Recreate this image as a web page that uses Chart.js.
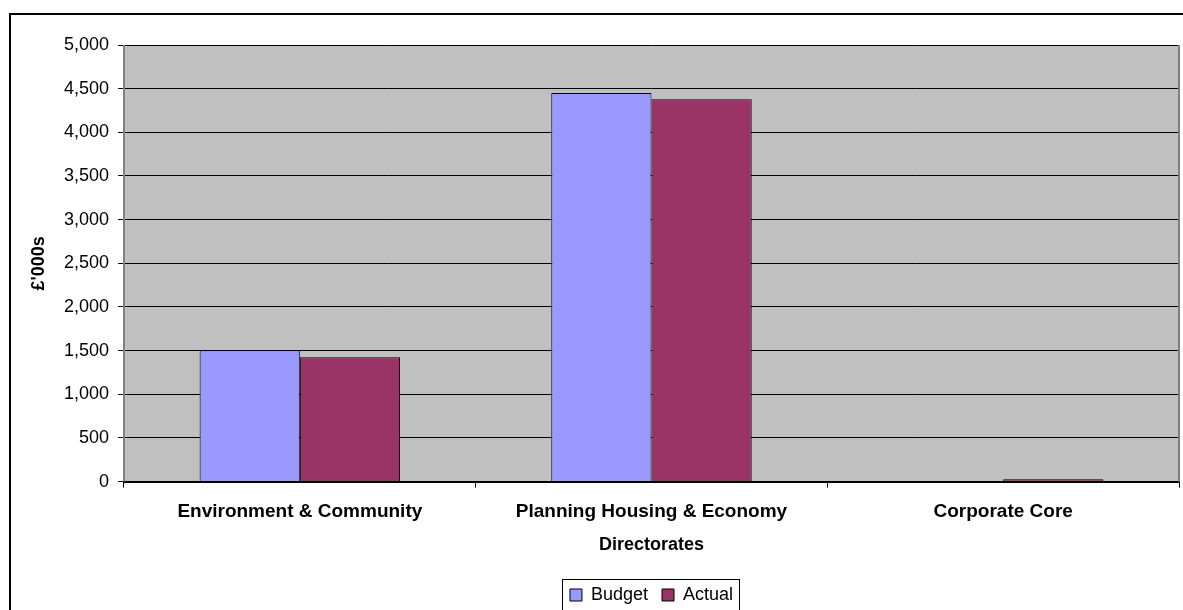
<!DOCTYPE html>
<html>
<head>
<meta charset="utf-8">
<script src="https://cdn.jsdelivr.net/npm/chart.js@4"></script>
<style>
  html, body { margin: 0; padding: 0; background: #fff; }
  #wrap { position: absolute; left: 0; top: 0; width: 1183px; height: 610px; }
</style>
</head>
<body>
<div id="wrap"><canvas id="barChart" width="1183" height="610"></canvas></div>
<script>
// directorates
var categories = ['Environment & Community', 'Planning Housing & Economy', 'Corporate Core'];
// £'000s
var budget = [1505, 4450, 8];
var actual = [1425, 4380, 28];
var yTicks = [0, 500, 1000, 1500, 2000, 2500, 3000, 3500, 4000, 4500, 5000];

var fontFamily = '"Liberation Sans", Arial, sans-serif';

// grey plot area + frame round the page
var excelLook = {
    id: 'excelLook',
    beforeDraw: function (chart) {
        var ctx = chart.ctx;
        var a = chart.chartArea;
        ctx.save();
        ctx.fillStyle = '#fff';
        ctx.fillRect(0, 0, chart.width, chart.height);
        ctx.fillStyle = '#c0c0c0';
        ctx.fillRect(a.left, a.top, a.right - a.left, a.bottom - a.top);
        ctx.restore();
    },
    afterDraw: function (chart) {
        var ctx = chart.ctx;
        var a = chart.chartArea;
        ctx.save();
        ctx.strokeStyle = '#808080';
        ctx.lineWidth = 2;
        ctx.beginPath();
        ctx.moveTo(a.left, a.bottom);
        ctx.lineTo(a.left, a.top);
        ctx.moveTo(a.right, a.top);
        ctx.lineTo(a.right, a.bottom);
        ctx.stroke();

        // outer chart frame
        ctx.strokeStyle = '#000';
        ctx.lineWidth = 2;
        ctx.strokeRect(10, 14, 1200, 700);

        // legend box
        var boxes = chart.legend.legendHitBoxes;
        if (boxes && boxes.length) {
            var first = boxes[0];
            var last = boxes[boxes.length - 1];
            var x1 = first.left - 8;
            var x2 = last.left + last.width + 6;
            var y1 = first.top - 7;
            ctx.strokeStyle = '#000';
            ctx.lineWidth = 1;
            ctx.strokeRect(Math.round(x1) + 0.5, Math.round(y1) + 0.5, Math.round(x2 - x1), 60);
        }
        ctx.restore();
    }
};

const bar = document.getElementById('barChart');

new Chart(bar, {
    type: 'bar',
    data: {
        labels: categories,
        datasets: [{
            label: 'Budget',
            data: budget,
            backgroundColor: '#9999ff',
            borderColor: '#000',
            borderWidth: 1
        }, {
            label: 'Actual',
            data: actual,
            backgroundColor: '#993366',
            borderColor: '#000',
            borderWidth: 1
        }]
    },
    options: {
        responsive: false,
        animation: false,
        devicePixelRatio: 1,
        datasets: {
            bar: {
                categoryPercentage: 0.57,
                barPercentage: 1
            }
        },
        layout: {
            padding: { left: 9, top: 45, right: 4, bottom: -4 }
        },
        scales: {
            x: {
                grid: {
                    offset: true,
                    drawOnChartArea: false,
                    drawTicks: true,
                    tickLength: 6,
                    color: '#000'
                },
                border: { color: '#000', width: 2 },
                ticks: {
                    color: '#000',
                    font: { family: fontFamily, size: 19, weight: 'bold' },
                    padding: 13
                },
                title: {
                    display: true,
                    text: 'Directorates',
                    color: '#000',
                    font: { family: fontFamily, size: 18, weight: 'bold' },
                    padding: { top: -2, bottom: 16 }
                }
            },
            y: {
                min: 0,
                max: 5000,
                afterBuildTicks: function (scale) {
                    scale.ticks = yTicks.map(function (v) { return { value: v }; });
                },
                afterFit: function (scale) {
                    scale.width = 115;
                },
                grid: {
                    color: '#000',
                    lineWidth: 1,
                    tickLength: 6
                },
                border: { display: false },
                ticks: {
                    color: '#000',
                    padding: 9,
                    font: { family: fontFamily, size: 18 },
                    callback: function (v) { return Number(v).toLocaleString('en-US'); }
                },
                title: {
                    display: true,
                    text: '£\'000s',
                    color: '#000',
                    font: { family: fontFamily, size: 18, weight: 'bold' },
                    padding: { top: 19, bottom: 0 }
                }
            }
        },
        plugins: {
            legend: {
                position: 'bottom',
                fullSize: false,
                labels: {
                    color: '#000',
                    boxWidth: 12,
                    boxHeight: 12,
                    padding: 14,
                    font: { family: fontFamily, size: 18 }
                }
            },
            tooltip: { enabled: false }
        }
    },
    plugins: [excelLook]
});
</script>
</body>
</html>
